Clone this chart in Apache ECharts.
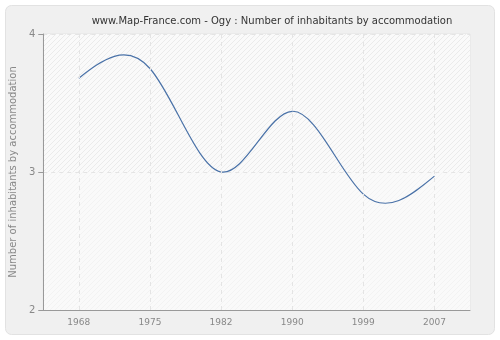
<!DOCTYPE html>
<html>
<head>
<meta charset="utf-8">
<style>
  html, body { margin: 0; padding: 0; background: #fff; }
  #chart { width: 500px; height: 340px; }
</style>
<script src="https://cdn.jsdelivr.net/npm/echarts@6/dist/echarts.min.js"></script>
</head>
<body>
<div id="chart"></div>
<script>
var years = ['1968', '1975', '1982', '1990', '1999', '2007'];
var values = [3.68, 3.75, 3.0, 3.44, 2.84, 2.97];
var yTicks = [2, 3, 4];

// diagonal hatch used as plot background
function makeHatch(bg, stripe) {
  var c = document.createElement('canvas');
  c.width = 5;
  c.height = 5;
  var ctx = c.getContext('2d');
  ctx.fillStyle = bg;
  ctx.fillRect(0, 0, 5, 5);
  ctx.strokeStyle = stripe;
  ctx.lineWidth = 1;
  ctx.beginPath();
  ctx.moveTo(0, 5);
  ctx.lineTo(5, 0);
  ctx.moveTo(-2.5, 2.5);
  ctx.lineTo(2.5, -2.5);
  ctx.moveTo(2.5, 7.5);
  ctx.lineTo(7.5, 2.5);
  ctx.stroke();
  return { image: c, repeat: 'repeat' };
}

// natural cubic spline second derivatives (unit spacing)
function splineM(y) {
  var n = y.length, m = new Array(n).fill(0);
  var c = [], d = [];
  for (var i = 1; i < n - 1; i++) {
    var r = 6 * (y[i + 1] - 2 * y[i] + y[i - 1]);
    if (i === 1) { c[i] = 0.25; d[i] = r / 4; }
    else {
      var den = 4 - c[i - 1];
      c[i] = 1 / den;
      d[i] = (r - d[i - 1]) / den;
    }
  }
  for (var j = n - 2; j >= 1; j--) {
    m[j] = d[j] - (j < n - 2 ? c[j] * m[j + 1] : 0);
  }
  return m;
}
var M = splineM(values);

function renderCurve(params, api) {
  if (params.dataIndex !== 0) return null;
  var kids = [];
  for (var i = 0; i < values.length - 1; i++) {
    var p0 = api.coord([i, values[i]]);
    var p3 = api.coord([i + 1, values[i + 1]]);
    var dy = values[i + 1] - values[i];
    var s0 = dy - (2 * M[i] + M[i + 1]) / 6;
    var s1 = dy + (M[i] + 2 * M[i + 1]) / 6;
    var c1 = api.coord([i, values[i] + s0 / 3]);
    var c2 = api.coord([i, values[i + 1] - s1 / 3]);
    kids.push({
      type: 'bezierCurve',
      shape: {
        x1: p0[0], y1: p0[1], x2: p3[0], y2: p3[1],
        cpx1: p0[0] + (p3[0] - p0[0]) / 3, cpy1: c1[1],
        cpx2: p3[0] - (p3[0] - p0[0]) / 3, cpy2: c2[1]
      },
      style: { fill: null, stroke: '#4a72a8', lineWidth: 1.2 }
    });
  }
  return { type: 'group', children: kids };
}

var chart = echarts.init(document.getElementById('chart'));
var option = {
  backgroundColor: '#fff',
  animation: false,
  graphic: [{
    type: 'rect',
    z: -10,
    shape: { x: 5.5, y: 5.5, width: 489, height: 329, r: 6 },
    style: { fill: '#f0f0f0', stroke: '#e2e2e2', lineWidth: 1 },
    silent: true
  }],
  title: {
    text: 'www.Map-France.com - Ogy : Number of inhabitants by accommodation',
    left: 267,
    textAlign: 'center',
    top: 11,
    textStyle: { fontFamily: 'DejaVu Sans', fontSize: 10, fontWeight: 'normal', color: '#333' }
  },
  grid: {
    left: 40, right: 30, top: 34, bottom: 30,
    show: true,
    backgroundColor: '#fafafa',
    borderColor: '#e4e4e4',
    borderWidth: 1
  },
  xAxis: {
    type: 'category',
    data: years,
    boundaryGap: true,
    axisLine: { lineStyle: { color: '#999', width: 1 } },
    axisTick: { alignWithLabel: true, length: 5, lineStyle: { color: '#999' } },
    axisLabel: { fontFamily: 'DejaVu Sans', fontSize: 9, color: '#888', margin: 8 },
    splitLine: { show: false }
  },
  yAxis: {
    type: 'value',
    min: 2,
    max: 4,
    interval: 1,
    name: 'Number of inhabitants by accommodation',
    nameLocation: 'middle',
    nameGap: 22,
    nameTextStyle: { fontFamily: 'DejaVu Sans', fontSize: 10, color: '#888' },
    axisLine: { show: true, lineStyle: { color: '#999', width: 1 } },
    axisTick: { show: true, length: 5, lineStyle: { color: '#999' } },
    axisLabel: {
      fontFamily: 'DejaVu Sans', fontSize: 10, color: '#888', margin: 8,
      formatter: function (v) { return yTicks.indexOf(v) >= 0 ? String(v) : ''; }
    },
    splitArea: {
      show: true,
      areaStyle: { color: [makeHatch('#fafafa', '#f3f3f3'), makeHatch('#fafafa', '#ebebeb')] }
    },
    splitLine: { show: true, lineStyle: { color: '#e4e4e4', type: [4, 4] } }
  },
  series: [{
    type: 'custom',
    renderItem: renderCurve,
    data: values.map(function (v, i) { return [i, v]; }),
    z: 3,
    markLine: {
      silent: true,
      symbol: 'none',
      label: { show: false },
      lineStyle: { color: '#e4e4e4', type: [4, 4], width: 1 },
      data: years.map(function (y) { return { xAxis: y }; })
    }
  }]
};
chart.setOption(option);
</script>
</body>
</html>
